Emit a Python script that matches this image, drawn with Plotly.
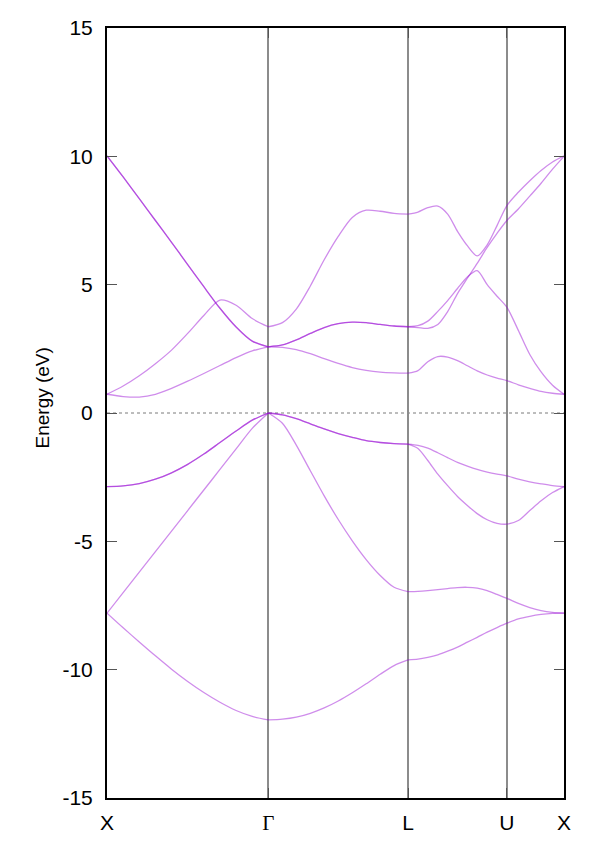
import plotly.graph_objects as go

# high-symmetry path X - Gamma - L - U - X (k in units of 2*pi/a)
k_xg = [0.0, 0.1, 0.2, 0.3, 0.4, 0.5, 0.6, 0.7, 0.8, 0.9, 1.0]
k_gl = [1.000, 1.087, 1.173, 1.260, 1.346, 1.433, 1.520, 1.606, 1.693, 1.779, 1.866]
k_lx = [1.866, 1.927, 1.988, 2.050, 2.111, 2.172, 2.233, 2.294, 2.356, 2.417, 2.478,
        2.549, 2.620, 2.690, 2.761, 2.832]

sym_k = [0.0, 1.0, 1.866, 2.478, 2.832]
sym_labels = ["X", '<span style="font-family:Liberation Serif">Γ</span>', "L", "U", "X"]

e_ticks = [-15, -10, -5, 0, 5, 10, 15]
e_labels = ["-15", "-10", "-5", "0", "5", "10", "15"]

# band energies (eV): X-G (11 values), G-L (11), L-U-X (16)
band1 = [-7.80, -8.37, -8.92, -9.46, -9.98, -10.46, -10.89, -11.27, -11.59, -11.82, -11.96,
         -11.96, -11.93, -11.85, -11.70, -11.49, -11.22, -10.90, -10.55, -10.18, -9.84, -9.62,
         -9.62, -9.59, -9.52, -9.42, -9.28, -9.12, -8.93, -8.74, -8.54, -8.36, -8.19,
         -8.02, -7.92, -7.85, -7.81, -7.80]
band2 = [-7.80, -7.00, -6.20, -5.40, -4.60, -3.80, -3.00, -2.20, -1.40, -0.60, 0.00,
         0.00, -0.40, -1.25, -2.25, -3.23, -4.15, -4.98, -5.71, -6.33, -6.79, -6.96,
         -6.96, -6.95, -6.92, -6.88, -6.84, -6.80, -6.79, -6.82, -6.92, -7.07, -7.22,
         -7.42, -7.58, -7.70, -7.77, -7.80]
band3 = [-2.87, -2.84, -2.75, -2.58, -2.33, -2.00, -1.60, -1.15, -0.70, -0.28, 0.00,
         0.00, -0.07, -0.22, -0.42, -0.62, -0.80, -0.95, -1.08, -1.15, -1.19, -1.21,
         -1.21, -1.38, -1.85, -2.38, -2.83, -3.25, -3.60, -3.92, -4.16, -4.30, -4.33,
         -4.19, -3.80, -3.42, -3.10, -2.87]
band4 = [-2.87, -2.84, -2.75, -2.58, -2.33, -2.00, -1.60, -1.15, -0.70, -0.28, 0.00,
         0.00, -0.07, -0.22, -0.42, -0.62, -0.80, -0.95, -1.08, -1.15, -1.19, -1.21,
         -1.21, -1.26, -1.37, -1.55, -1.74, -1.92, -2.07, -2.20, -2.30, -2.38, -2.45,
         -2.58, -2.68, -2.76, -2.83, -2.87]
band5 = [0.73, 0.64, 0.62, 0.73, 0.96, 1.24, 1.54, 1.85, 2.16, 2.42, 2.58,
         2.58, 2.56, 2.47, 2.31, 2.12, 1.93, 1.77, 1.66, 1.59, 1.56, 1.55,
         1.55, 1.65, 2.00, 2.20, 2.18, 2.04, 1.84, 1.64, 1.48, 1.36, 1.26,
         1.10, 0.96, 0.84, 0.77, 0.73]
band6 = [0.73, 1.05, 1.45, 1.92, 2.45, 3.10, 3.80, 4.40, 4.20, 3.68, 3.36,
         2.58, 2.65, 2.85, 3.10, 3.33, 3.48, 3.54, 3.52, 3.45, 3.39, 3.36,
         3.36, 3.40, 3.58, 3.96, 4.38, 4.85, 5.30, 5.55, 5.00, 4.55, 4.12,
         3.22, 2.28, 1.60, 1.08, 0.73]
band7 = [10.02, 9.20, 8.35, 7.50, 6.65, 5.78, 4.92, 4.08, 3.35, 2.80, 2.58,
         2.58, 2.65, 2.85, 3.10, 3.33, 3.48, 3.54, 3.52, 3.45, 3.39, 3.36,
         3.36, 3.33, 3.30, 3.45, 3.95, 4.65, 5.25, 5.83, 6.45, 7.00, 7.50,
         7.95, 8.45, 8.95, 9.50, 10.00]
band8 = [10.02, 9.20, 8.35, 7.50, 6.65, 5.78, 4.92, 4.08, 3.35, 2.80, 2.58,
         3.36, 3.52, 4.05, 4.95, 5.97, 6.88, 7.62, 7.90, 7.86, 7.78, 7.75,
         7.75, 7.83, 8.00, 8.06, 7.75, 7.08, 6.52, 6.12, 6.55, 7.30, 8.08,
         8.60, 9.05, 9.45, 9.78, 10.02]

bands = [band1, band2, band3, band4, band5, band6, band7, band8]
segments = [k_xg, k_gl, k_lx]


def split_path(values):
    # break the polyline at Gamma and L
    xs, ys = [], []
    i = 0
    for seg in segments:
        xs += seg + [None]
        ys += values[i:i + len(seg)] + [None]
        i += len(seg)
    return xs, ys


fig = go.Figure()
for band in bands:
    xs, ys = split_path(band)
    fig.add_trace(go.Scatter(
        x=xs, y=ys, mode="lines",
        line=dict(color="rgba(148,0,211,0.45)", width=1.3, shape="spline", smoothing=0.8),
        connectgaps=False, hoverinfo="skip", showlegend=False,
    ))

# the page adds an 8px body margin, so the figure itself is the white card
L, R, T, B = 99, 17, 20, 47
W, H = 573, 837
pw, ph = W - L - R, H - T - B


def px(x):
    return (x - L) / pw


def py(y):
    return (H - B - y) / ph


fig.update_layout(
    width=W, height=H,
    margin=dict(l=L, r=R, t=T, b=B),
    paper_bgcolor="white",
    plot_bgcolor="white",
    font=dict(family="Liberation Sans, Arial, sans-serif", size=19, color="black"),
    shapes=[
        dict(type="line", xref="x", yref="y", x0=0, x1=2.832, y0=0, y1=0,
             line=dict(color="#7a7a7a", width=1, dash="dot"), layer="below"),
    ],
    xaxis=dict(
        range=[0, 2.832], tickvals=sym_k, ticktext=sym_labels,
        tickfont=dict(size=21), ticklabelstandoff=5, automargin=False,
        ticks="inside", ticklen=10, tickwidth=1.2, tickcolor="#555",
        showgrid=True, gridcolor="#8c8c8c", gridwidth=1.5,
        showline=True, linecolor="black", linewidth=2, mirror="allticks",
        zeroline=False,
    ),
    yaxis=dict(
        range=[-15, 15], tickvals=e_ticks, ticktext=e_labels,
        tickfont=dict(size=21), ticklabelstandoff=8, automargin=False,
        ticks="inside", ticklen=10, tickwidth=1.2, tickcolor="#555",
        showgrid=False,
        showline=True, linecolor="black", linewidth=2, mirror="allticks",
        zeroline=False,
    ),
    annotations=[
        dict(text="Energy (eV)", xref="paper", yref="paper", x=px(21), y=py(390),
             textangle=-90, showarrow=False, font=dict(size=19)),
    ],
)

fig.write_html("out.html")
